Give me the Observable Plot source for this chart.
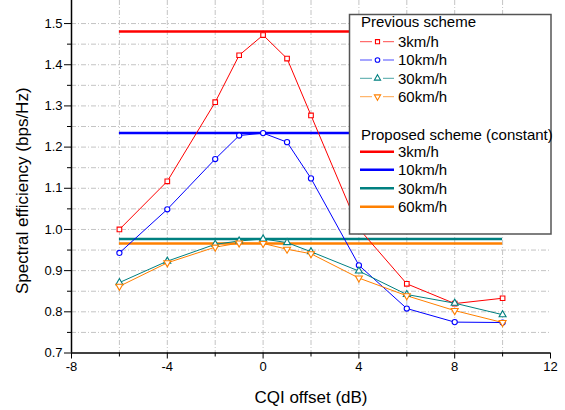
<!DOCTYPE html>
<html><head><meta charset="utf-8">
<script src="https://cdn.jsdelivr.net/npm/d3@7"></script>
<script src="https://cdn.jsdelivr.net/npm/@observablehq/plot@0.6"></script>
<style>
body{margin:0;background:#fff;}
#wrap{position:relative;width:565px;height:410px;}
svg{font-family:"Liberation Sans",Arial,sans-serif;}
</style></head><body><div id="wrap"></div>
<script>
// CQI offsets (dB)
const offsets = [-6, -4, -2, -1, 0, 1, 2, 4, 6, 8, 10];
// Previous scheme
const prev3  = [1.000, 1.117, 1.309, 1.423, 1.472, 1.415, 1.277, 1.002, 0.868, 0.820, 0.833];
const prev10 = [0.943, 1.049, 1.171, 1.228, 1.234, 1.212, 1.124, 0.913, 0.808, 0.775, 0.774];
const prev30 = [0.871, 0.923, 0.964, 0.972, 0.977, 0.968, 0.946, 0.899, 0.842, 0.821, 0.793];
const prev60 = [0.862, 0.919, 0.957, 0.967, 0.966, 0.952, 0.941, 0.882, 0.839, 0.803, 0.774];
// Proposed scheme (constant)
const constSpan = [-6, 10];
const constVals = [1.481, 1.234, 0.977, 0.966];
const speeds = ["3km/h", "10km/h", "30km/h", "60km/h"];
const colors = ["#ff0000", "#0000ff", "#008080", "#ff8000"];
// ticks
const xTicks = [-8, -4, 0, 4, 8, 12];
const xMinor = [-6, -2, 2, 6, 10];
const yTicks = [0.7, 0.8, 0.9, 1.0, 1.1, 1.2, 1.3, 1.4, 1.5];
const yMinor = [0.75, 0.85, 0.95, 1.05, 1.15, 1.25, 1.35, 1.45];

const triDown = {
  draw(ctx, size) {
    const y = -Math.sqrt(size / (Math.sqrt(3) * 3));
    ctx.moveTo(0, -y * 2);
    ctx.lineTo(-Math.sqrt(3) * y, y);
    ctx.lineTo(Math.sqrt(3) * y, y);
    ctx.closePath();
  }
};
const symbols = [d3.symbolSquare, d3.symbolCircle, d3.symbolTriangle, triDown];

const prevSeries = [prev3, prev10, prev30, prev60];
const data = prevSeries.flatMap((vals, i) => offsets.map((x, j) => ({x, y: vals[j], s: speeds[i]})));
const consts = constVals.map((v, i) => ({v, s: speeds[i]}));

const gridStyle = {stroke: "#c4c4c4", strokeWidth: 1, strokeDasharray: "5,2,1,2"};

const plot = Plot.plot({
  width: 565, height: 410,
  marginLeft: 71, marginRight: 15, marginTop: 0, marginBottom: 57.5,
  style: {fontFamily: '"Liberation Sans", Arial, sans-serif', color: "#000", background: "#fff"},
  x: {domain: [-8, 12], label: null},
  y: {domain: [0.7, 1.556], label: null},
  color: {domain: speeds, range: colors},
  symbol: {domain: speeds, range: symbols},
  marks: [
    Plot.ruleY([...yMinor, ...yTicks.slice(1)], gridStyle),
    Plot.ruleX([...xMinor, ...xTicks.slice(1, -1)], gridStyle),
    Plot.ruleY(consts, {y: "v", x1: constSpan[0], x2: constSpan[1], stroke: "s", strokeWidth: 2.5}),
    Plot.line(data, {x: "x", y: "y", z: "s", stroke: "s", strokeWidth: 1}),
    Plot.dot(data, {x: "x", y: "y", symbol: "s", stroke: "s", fill: "white", r: 2.6, strokeWidth: 1.1}),
    Plot.ruleX([-8], {stroke: "#000", strokeWidth: 1.5}),
    Plot.ruleY([0.7], {stroke: "#000", strokeWidth: 1.5}),
    Plot.axisX(xTicks, {tickSize: 6, tickPadding: 3, fontSize: 13, tickFormat: d => String(d), label: null}),
    Plot.axisX(xMinor, {tickSize: 4, tickFormat: () => "", label: null}),
    Plot.axisY(yTicks, {tickSize: 7, tickPadding: 2, fontSize: 13, tickFormat: d3.format(".1f"), label: null}),
    Plot.axisY(yMinor, {tickSize: 4, tickFormat: () => "", label: null}),
    Plot.text(["Spectral efficiency (bps/Hz)"], {frameAnchor: "left", textAnchor: "middle", rotate: -90, dx: -49, dy: 14, fontSize: 17, lineAnchor: "middle"}),
    Plot.text(["CQI offset (dB)"], {frameAnchor: "bottom", dy: 45, fontSize: 17, lineAnchor: "middle"})
  ]
});
document.getElementById("wrap").appendChild(plot);

// legend inside the plot area
const svg = d3.select(plot);
const lg = svg.append("g").attr("font-size", 15).attr("fill", "#000").attr("text-anchor", "start");
lg.append("rect").attr("x", 349.5).attr("y", 14.5).attr("width", 201.5).attr("height", 219.5)
  .attr("fill", "#fff").attr("stroke", "#555").attr("stroke-width", 1.5);
lg.append("text").attr("x", 361).attr("y", 22).attr("dy", "0.35em").text("Previous scheme");
const prevRows = [41.7, 60, 78.3, 96.7];
speeds.forEach((s, i) => {
  const y = prevRows[i];
  lg.append("line").attr("x1", 360).attr("x2", 372).attr("y1", y).attr("y2", y).attr("stroke", colors[i]).attr("stroke-width", 1).attr("opacity", 0.7);
  lg.append("line").attr("x1", 383).attr("x2", 394).attr("y1", y).attr("y2", y).attr("stroke", colors[i]).attr("stroke-width", 1).attr("opacity", 0.7);
  lg.append("path").attr("d", d3.symbol(symbols[i], Math.PI * 2.3 * 2.3)()).attr("transform", `translate(377.5,${y})`)
    .attr("fill", "white").attr("stroke", colors[i]).attr("stroke-width", 1.1);
  lg.append("text").attr("x", 398).attr("y", y).attr("dy", "0.35em").text(s);
});
lg.append("text").attr("x", 361).attr("y", 134.3).attr("dy", "0.35em").text("Proposed scheme (constant)");
const constRows = [151.7, 169.7, 188.3, 206.7];
speeds.forEach((s, i) => {
  const y = constRows[i];
  lg.append("line").attr("x1", 360).attr("x2", 394).attr("y1", y).attr("y2", y).attr("stroke", colors[i]).attr("stroke-width", 2.5);
  lg.append("text").attr("x", 398).attr("y", y).attr("dy", "0.35em").text(s);
});
</script>
</body></html>
